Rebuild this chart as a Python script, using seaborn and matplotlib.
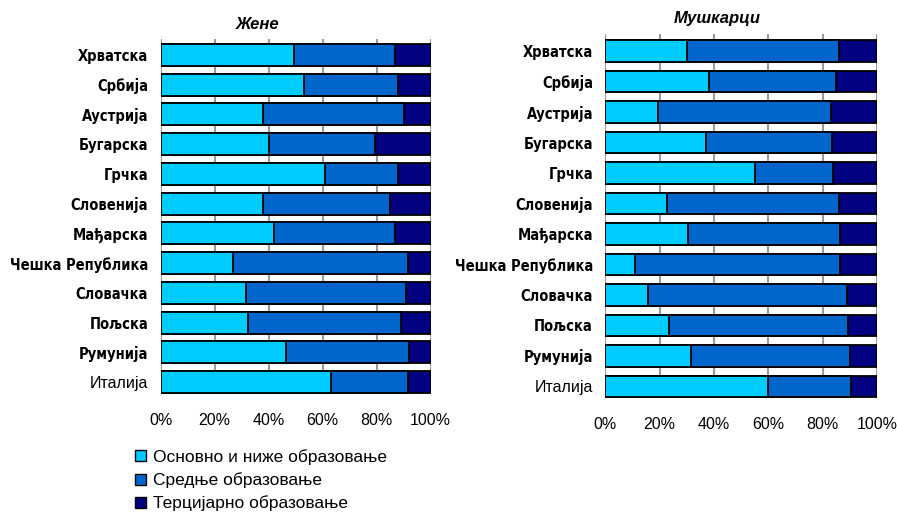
"""Education level shares by country, women vs men (stacked 100% bars)."""

import matplotlib.pyplot as plt
import seaborn as sns
from matplotlib.patches import Patch
from matplotlib.ticker import FuncFormatter

sns.set_theme(style="white")
plt.rcParams["font.family"] = ["Liberation Sans", "DejaVu Sans"]
plt.rcParams["text.color"] = "black"
plt.rcParams["xtick.color"] = "black"
plt.rcParams["ytick.color"] = "black"

countries = ["Хрватска", "Србија", "Аустрија", "Бугарска", "Грчка", "Словенија",
             "Мађарска", "Чешка Република", "Словачка", "Пољска", "Румунија", "Италија"]

levels = ["Основно и ниже образовање", "Средње образовање", "Терцијарно образовање"]
colors = ["#00CCFF", "#0066CC", "#000080"]

# women (%)
women_basic = [49.5, 53, 38, 40, 61, 38, 42, 27, 31.5, 32.5, 46.5, 63]
women_secondary = [37.5, 35, 52, 39.5, 27, 47, 45, 64.5, 59.5, 56.5, 45.5, 28.5]
women_tertiary = [13, 12, 10, 20.5, 12, 15, 13, 8.5, 9, 11, 8, 8.5]

# men (%)
men_basic = [30, 38, 19.5, 37, 55, 22.5, 30.5, 11, 15.5, 23.5, 31.5, 60]
men_secondary = [56, 47, 63.5, 46.5, 29, 63.5, 56, 75.5, 73.5, 66, 58.5, 30.5]
men_tertiary = [14, 15, 17, 16.5, 16, 14, 13.5, 13.5, 11, 10.5, 10, 9.5]


def stacked(ax, parts, bar_width, ylim):
    # draw cumulative totals back to front so each segment shows its own share
    cum = []
    run = [0] * len(countries)
    for p in parts:
        run = [a + b for a, b in zip(run, p)]
        cum.append(run)
    for total, col in reversed(list(zip(cum, colors))):
        sns.barplot(x=total, y=countries, orient="h", color=col, saturation=1,
                    edgecolor="black", linewidth=1.3, width=bar_width, ax=ax, zorder=3)
    ax.set_xlim(0, 100)
    ax.set_ylim(*ylim)
    ax.set_xticks(range(0, 101, 20))
    ax.xaxis.set_major_formatter(FuncFormatter(lambda v, _: f"{v:.0f}%"))
    ax.grid(axis="x", color="#9a9a9a", linewidth=1.5, zorder=0)
    ax.set_axisbelow(True)
    for s in ax.spines.values():
        s.set_visible(False)
    ax.set_xlabel("")
    ax.set_ylabel("")
    ax.tick_params(axis="x", labelsize=11.5, pad=14, length=0)
    ax.tick_params(axis="y", length=0, pad=9)
    for i, lbl in enumerate(ax.get_yticklabels()):
        if i < len(countries) - 1:
            lbl.set_family("DejaVu Sans")
            lbl.set_fontstretch("condensed")
            lbl.set_fontweight("bold")
            lbl.set_fontsize(10.5)
        else:
            lbl.set_fontsize(11.5)


fig = plt.figure(figsize=(8.97, 5.14), dpi=100)
ax_w = fig.add_axes([0.179, 0.2335, 0.301, 0.6907])
ax_m = fig.add_axes([0.675, 0.2257, 0.3025, 0.708])

stacked(ax_w, [women_basic, women_secondary, women_tertiary], 0.74, (11.4, -0.54))
stacked(ax_m, [men_basic, men_secondary, men_tertiary], 0.71, (11.38, -0.56))

fig.text(258 / 897, 1 - 24 / 514, "Жене", ha="center", va="center",
         fontsize=12, fontweight="bold", fontstyle="italic")
fig.text(717 / 897, 1 - 18 / 514, "Мушкарци", ha="center", va="center",
         fontsize=12, fontweight="bold", fontstyle="italic")

handles = [Patch(facecolor=c, edgecolor="black", linewidth=1.0) for c in colors]
fig.legend(handles, levels, loc="upper left", bbox_to_anchor=(0.151, 0.126),
           frameon=False, fontsize=12.5, handlelength=0.6, handleheight=0.6,
           handletextpad=0.4, labelspacing=0.42, borderaxespad=0, borderpad=0)

fig.savefig("out.png", dpi=100)
